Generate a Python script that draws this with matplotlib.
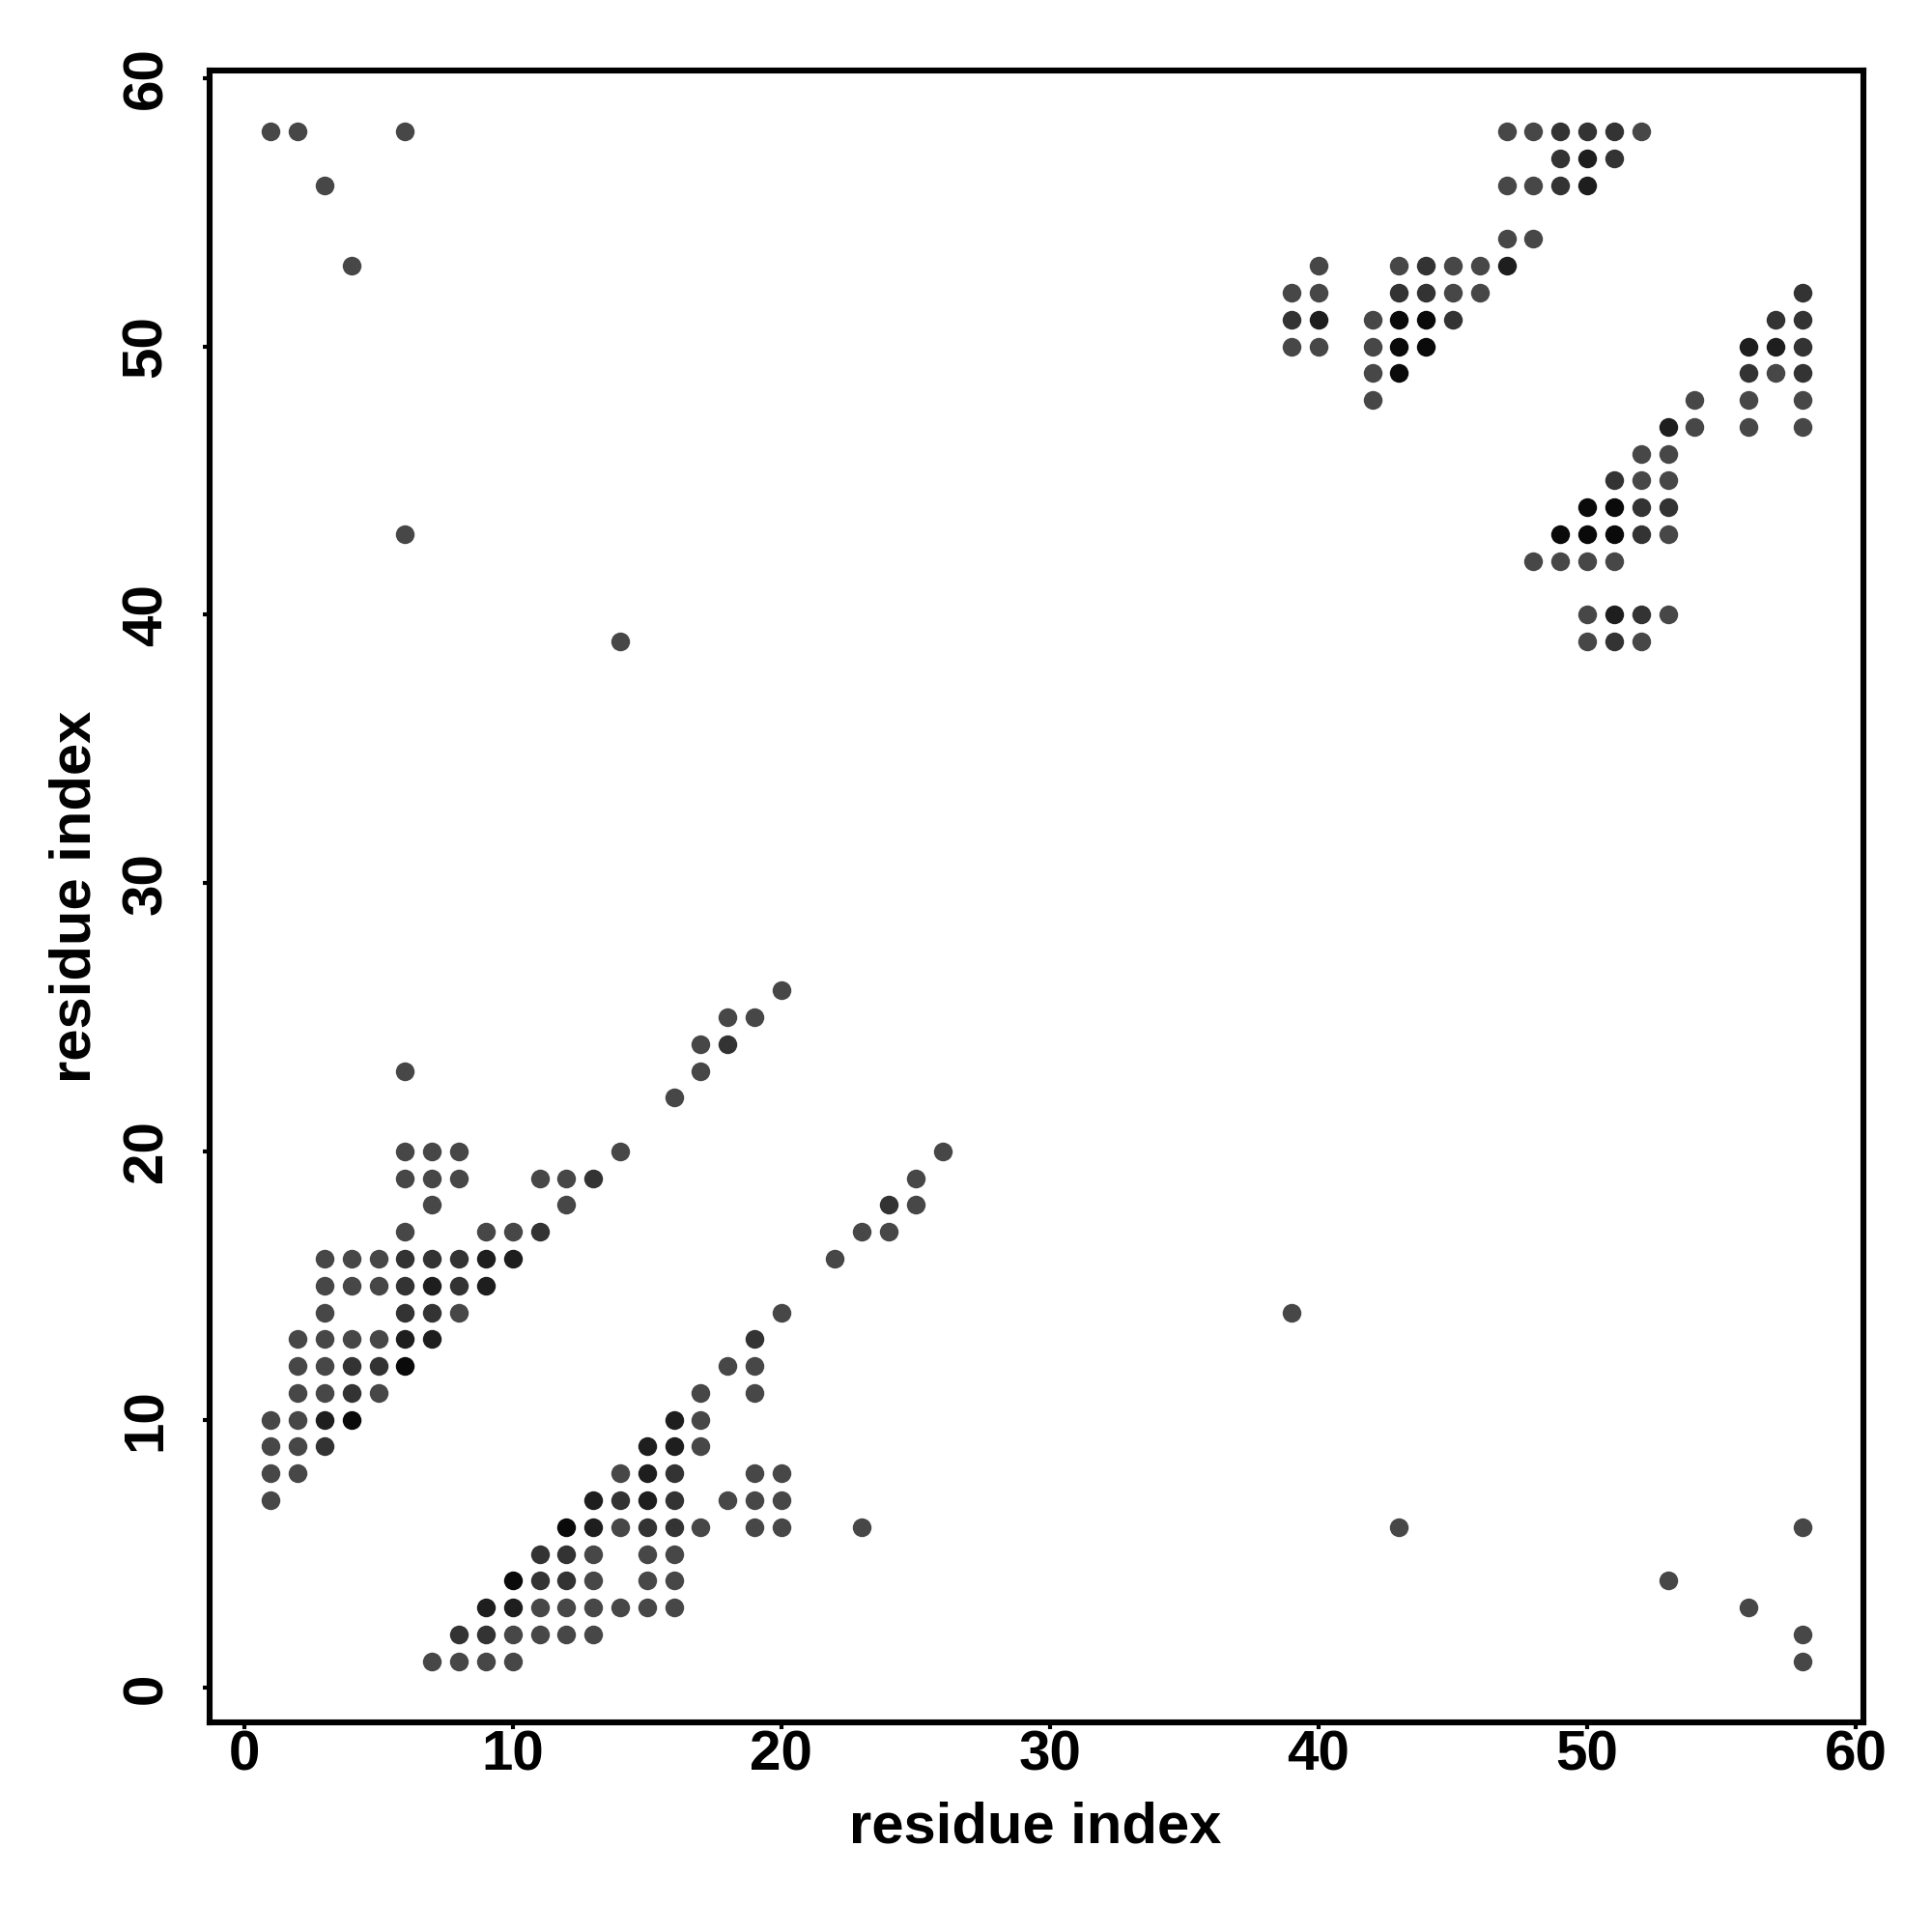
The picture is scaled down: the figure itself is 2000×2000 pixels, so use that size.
import numpy as np
import matplotlib
matplotlib.use("Agg")
import matplotlib.pyplot as plt

plt.rcParams['font.family'] = ['Liberation Sans', 'DejaVu Sans']
plt.rcParams['font.weight'] = 'bold'

# (residue i, residue j, shade level) - level 0 = normal grey, 3 = nearly black
upper_band = [
    (20, 26, 0), (18, 25, 0), (19, 25, 0), (17, 24, 0), (18, 24, 1), (6, 23, 0), (17, 23, 0), (16, 22, 0),
    (6, 20, 0), (7, 20, 0), (8, 20, 0), (14, 20, 0),
    (6, 19, 0), (7, 19, 0), (8, 19, 0), (11, 19, 0), (12, 19, 0), (13, 19, 1),
    (7, 18, 0), (12, 18, 0),
    (6, 17, 0), (9, 17, 0), (10, 17, 0), (11, 17, 1),
    (3, 16, 0), (4, 16, 0), (5, 16, 0), (6, 16, 1), (7, 16, 1), (8, 16, 1), (9, 16, 2), (10, 16, 2),
    (3, 15, 0), (4, 15, 0), (5, 15, 0), (6, 15, 1), (7, 15, 2), (8, 15, 1), (9, 15, 2),
    (3, 14, 0), (6, 14, 1), (7, 14, 1), (8, 14, 0),
    (2, 13, 0), (3, 13, 0), (4, 13, 0), (5, 13, 0), (6, 13, 2), (7, 13, 2),
    (2, 12, 0), (3, 12, 0), (4, 12, 1), (5, 12, 1), (6, 12, 3),
    (2, 11, 0), (3, 11, 0), (4, 11, 1), (5, 11, 0),
    (1, 10, 0), (2, 10, 0), (3, 10, 2), (4, 10, 3),
    (1, 9, 0), (2, 9, 0), (3, 9, 1),
    (1, 8, 0), (2, 8, 0),
    (1, 7, 0),
]

lower_band = [
    (26, 20, 0), (25, 19, 0), (24, 18, 1), (25, 18, 0), (23, 17, 0), (24, 17, 0), (22, 16, 0),
    (20, 14, 0), (19, 13, 1), (18, 12, 0), (19, 12, 0), (17, 11, 0), (19, 11, 0),
    (16, 10, 2), (17, 10, 0),
    (15, 9, 2), (16, 9, 2), (17, 9, 0),
    (14, 8, 0), (15, 8, 2), (16, 8, 1), (19, 8, 0), (20, 8, 0),
    (13, 7, 2), (14, 7, 1), (15, 7, 2), (16, 7, 1), (18, 7, 0), (19, 7, 0), (20, 7, 0),
    (12, 6, 3), (13, 6, 2), (14, 6, 0), (15, 6, 1), (16, 6, 1), (17, 6, 0), (19, 6, 0), (20, 6, 0), (23, 6, 0),
    (11, 5, 1), (12, 5, 1), (13, 5, 0), (15, 5, 0), (16, 5, 0),
    (10, 4, 3), (11, 4, 1), (12, 4, 1), (13, 4, 0), (15, 4, 0), (16, 4, 0),
    (9, 3, 2), (10, 3, 2), (11, 3, 0), (12, 3, 0), (13, 3, 0), (14, 3, 0), (15, 3, 0), (16, 3, 0),
    (8, 2, 1), (9, 2, 1), (10, 2, 0), (11, 2, 0), (12, 2, 0), (13, 2, 0),
    (7, 1, 0), (8, 1, 0), (9, 1, 0), (10, 1, 0),
]

c_terminal = [
    (47, 58, 0), (48, 58, 0), (49, 58, 1), (50, 58, 1), (51, 58, 1), (52, 58, 0),
    (49, 57, 1), (50, 57, 2), (51, 57, 1),
    (47, 56, 0), (48, 56, 0), (49, 56, 1), (50, 56, 2),
    (47, 54, 0), (48, 54, 0),
    (40, 53, 0), (43, 53, 0), (44, 53, 1), (45, 53, 0), (46, 53, 0), (47, 53, 2),
    (39, 52, 0), (40, 52, 0), (43, 52, 1), (44, 52, 1), (45, 52, 0), (46, 52, 0), (58, 52, 1),
    (39, 51, 1), (40, 51, 2), (42, 51, 0), (43, 51, 3), (44, 51, 3), (45, 51, 1), (57, 51, 1), (58, 51, 1),
    (39, 50, 0), (40, 50, 0), (42, 50, 0), (43, 50, 3), (44, 50, 3), (56, 50, 2), (57, 50, 2), (58, 50, 1),
    (42, 49, 0), (43, 49, 3), (56, 49, 1), (57, 49, 0), (58, 49, 1),
    (42, 48, 0), (54, 48, 0), (56, 48, 0), (58, 48, 0),
    (53, 47, 2), (54, 47, 0), (56, 47, 0), (58, 47, 0),
    (52, 46, 0), (53, 46, 0),
    (51, 45, 1), (52, 45, 0), (53, 45, 0),
    (50, 44, 3), (51, 44, 3), (52, 44, 1), (53, 44, 1),
    (49, 43, 3), (50, 43, 3), (51, 43, 3), (52, 43, 1), (53, 43, 0),
    (48, 42, 0), (49, 42, 0), (50, 42, 0), (51, 42, 0),
    (50, 40, 0), (51, 40, 2), (52, 40, 1), (53, 40, 0),
    (50, 39, 0), (51, 39, 1), (52, 39, 0),
]

isolated = [
    (1, 58, 0), (2, 58, 0), (6, 58, 0), (3, 56, 0), (4, 53, 0), (6, 43, 0), (14, 39, 0),
    (39, 14, 0), (43, 6, 0), (58, 6, 0), (53, 4, 0), (56, 3, 0), (58, 2, 0), (58, 1, 0),
]

shade_colors = ['#474747', '#333333', '#1e1e1e', '#0a0a0a']

pts = np.array(upper_band + lower_band + c_terminal + isolated)
res_i, res_j, level = pts[:, 0], pts[:, 1], pts[:, 2]

fig = plt.figure(figsize=(10, 10), dpi=200)
ax = fig.add_axes([0.1085, 0.1085, 0.856, 0.855])

for lv, col in enumerate(shade_colors):
    m = level == lv
    ax.plot(res_i[m], res_j[m], 'o', color=col, markersize=7.0, markeredgewidth=0)

ax.set_xlim(-1.28, 60.28)
ax.set_ylim(-1.28, 60.28)
ax.set_xticks(np.arange(0, 61, 10))
ax.set_yticks(np.arange(0, 61, 10))

for s in ax.spines.values():
    s.set_linewidth(2.2)

ax.tick_params(axis='both', direction='out', length=2.6, width=1.5, labelsize=21)
ax.tick_params(axis='x', pad=0)
ax.tick_params(axis='y', pad=11, labelrotation=90)
for lab in ax.get_yticklabels():
    lab.set_va('center')

ax.set_xlabel('residue index', fontsize=21.5, fontweight='bold', va='center')
ax.set_ylabel('residue index', fontsize=21.5, fontweight='bold', va='center')
ax.xaxis.set_label_coords(0.499, -0.064)
ax.yaxis.set_label_coords(-0.081, 0.5)

fig.savefig('out.png', dpi=200, facecolor='white')
